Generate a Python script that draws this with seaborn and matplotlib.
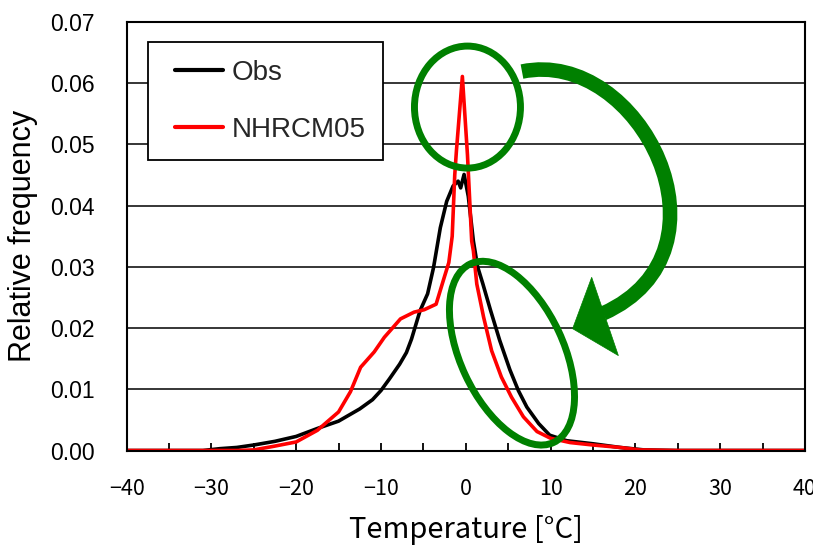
import numpy as np
import pandas as pd
import matplotlib
matplotlib.use("Agg")
import matplotlib.pyplot as plt
import seaborn as sns
from matplotlib.patches import Ellipse, PathPatch, Polygon
from matplotlib.path import Path
from matplotlib.lines import Line2D
from matplotlib.legend_handler import HandlerLine2D
from matplotlib.transforms import IdentityTransform

# ---------------- data ----------------
series_names = ["Obs", "NHRCM05"]
series_colors = ["black", "red"]

obs_temp = [-40, -31, -29, -27, -25, -22.5, -20, -17.5, -15, -12.5, -11, -10, -9, -7.8, -7,
            -6.4, -5.4, -4.5, -3.8, -3.0, -2.25, -1.5, -0.9, -0.6, -0.2, 0.3, 0.9, 1.4, 2.0,
            2.9, 4.0, 5.2, 6.2, 7.2, 8.6, 9.9, 11.9, 15, 18.2, 21, 25, 40]
obs_freq = [0, 0, 0.0003, 0.0005, 0.0009, 0.0015, 0.0023, 0.0036, 0.0048, 0.0068, 0.0083,
            0.0098, 0.0117, 0.0141, 0.0160, 0.0182, 0.0228, 0.0256, 0.0299, 0.0364, 0.0407,
            0.0432, 0.0440, 0.0429, 0.0451, 0.0415, 0.0342, 0.0300, 0.0273, 0.0230, 0.0180,
            0.0132, 0.0098, 0.0071, 0.0044, 0.0025, 0.0016, 0.0011, 0.0005, 0.0001, 0, 0]

rcm_temp = [-40, -27, -25, -22.6, -20, -17.5, -15, -13.6, -12.4, -10.8, -9.6, -8.9, -7.7,
            -6.1, -4.9, -3.5, -2.6, -2.0, -1.6, -1.3, -1.1, -0.4, 0.2, 0.7, 0.9, 1.3, 2.1,
            3.05, 4.2, 5.4, 6.8, 8.4, 10, 12.3, 15, 18.2, 20.5, 25, 40]
rcm_freq = [0, 0, 0.0001, 0.0007, 0.0014, 0.0033, 0.0063, 0.0096, 0.0136, 0.0161, 0.0185,
            0.0196, 0.0215, 0.0226, 0.0230, 0.0239, 0.0280, 0.0307, 0.0350, 0.0450, 0.0490,
            0.0611, 0.0483, 0.0342, 0.0326, 0.0272, 0.0218, 0.0163, 0.0120, 0.0087, 0.0055,
            0.0031, 0.0020, 0.0013, 0.0009, 0.0005, 0.0001, 0, 0]

x_ticks = [-40, -30, -20, -10, 0, 10, 20, 30, 40]
x_tick_labels = ["\u221240", "\u221230", "\u221220", "\u221210", "0", "10", "20", "30", "40"]
x_minor_ticks = [-35, -25, -15, -5, 5, 15, 25, 35]
y_ticks = [0.00, 0.01, 0.02, 0.03, 0.04, 0.05, 0.06, 0.07]
y_tick_labels = ["0.00", "0.01", "0.02", "0.03", "0.04", "0.05", "0.06", "0.07"]
x_label = "Temperature [\u00b0C]"
y_label = "Relative frequency"

# ---------------- style ----------------
sns.set_style("white")
plt.rcParams["font.family"] = ["Liberation Sans", "DejaVu Sans"]
cjk = ["Noto Sans CJK JP", "DejaVu Sans"]

fig = plt.figure(figsize=(8.13, 5.47), dpi=100)
fig.patch.set_facecolor("white")
ax = fig.add_axes([0.1557, 0.1764, 0.8344, 0.7834])

df = pd.concat([
    pd.DataFrame({"Temperature": obs_temp, "Frequency": obs_freq, "Series": series_names[0]}),
    pd.DataFrame({"Temperature": rcm_temp, "Frequency": rcm_freq, "Series": series_names[1]}),
], ignore_index=True)

sns.lineplot(data=df, x="Temperature", y="Frequency", hue="Series",
             hue_order=series_names, palette=series_colors, estimator=None,
             sort=False, linewidth=2.6, ax=ax, legend=True)

ax.set_xlim(-40, 40)
ax.set_ylim(0, 0.07)
ax.set_axisbelow(True)
ax.yaxis.grid(True, color="black", linewidth=1.1)
ax.xaxis.grid(False)
for s in ax.spines.values():
    s.set_color("black")
    s.set_linewidth(1.5)

ax.set_xticks(x_ticks)
ax.set_xticklabels(x_tick_labels)
ax.set_xticks(x_minor_ticks, minor=True)
ax.set_yticks(y_ticks)
ax.set_yticklabels(y_tick_labels)
ax.tick_params(axis="x", which="both", direction="in", length=6, width=1.3,
               color="black", labelcolor="black", pad=20, bottom=True)
ax.tick_params(axis="y", which="both", direction="in", length=0, pad=23,
               labelsize=16.5, labelcolor="black", left=True)
for lab in ax.get_xticklabels():
    lab.set_fontfamily(cjk)
    lab.set_fontsize(15.5)

ax.set_xlabel(x_label, fontsize=21, family=cjk, color="black")
ax.set_ylabel(y_label, fontsize=22, color="black")
ax.xaxis.set_label_coords(0.5, -0.15)
ax.yaxis.set_label_coords(-0.131, 0.5)

handles, labels = ax.get_legend_handles_labels()
leg = ax.legend(handles, labels, loc="upper left", bbox_to_anchor=(0.0315, 0.9526),
                borderaxespad=0, frameon=True, fancybox=False, framealpha=1,
                edgecolor="black", fontsize=20, handlelength=2.06, handletextpad=0.33,
                labelspacing=1.12, borderpad=0.63,
                handler_map={Line2D: HandlerLine2D(xpad=0.36)})
leg.get_frame().set_linewidth(1.3)
for h in leg.get_lines():
    h.set_linewidth(3)

# ---------------- annotations (green marks) ----------------
green = "#008000"

def px(x, y):
    return ax.transData.transform((x, y))

circle = Ellipse(px(0.2, 0.0561), 106, 122, angle=0, transform=IdentityTransform(),
                 fill=False, edgecolor=green, linewidth=5, zorder=5)
fig.add_artist(circle)

oval = Ellipse(px(5.45, 0.0159), 103, 197, angle=25, transform=IdentityTransform(),
               fill=False, edgecolor=green, linewidth=5, zorder=5)
fig.add_artist(oval)

arc_pts = [(6.63, 0.0619), (20.5, 0.0659), (32.6, 0.0326), (16.2, 0.0224)]
arc = PathPatch(Path(arc_pts, [Path.MOVETO, Path.CURVE4, Path.CURVE4, Path.CURVE4]),
                transform=ax.transData, fill=False, edgecolor=green, linewidth=10.5,
                capstyle="butt", zorder=5)
fig.add_artist(arc)

head = Polygon([(12.6, 0.0199), (14.85, 0.0283), (18.0, 0.0155)], closed=True,
               transform=ax.transData, facecolor=green, edgecolor=green, linewidth=0.5,
               zorder=5)
fig.add_artist(head)

fig.savefig("out.png", dpi=100, facecolor="white")
